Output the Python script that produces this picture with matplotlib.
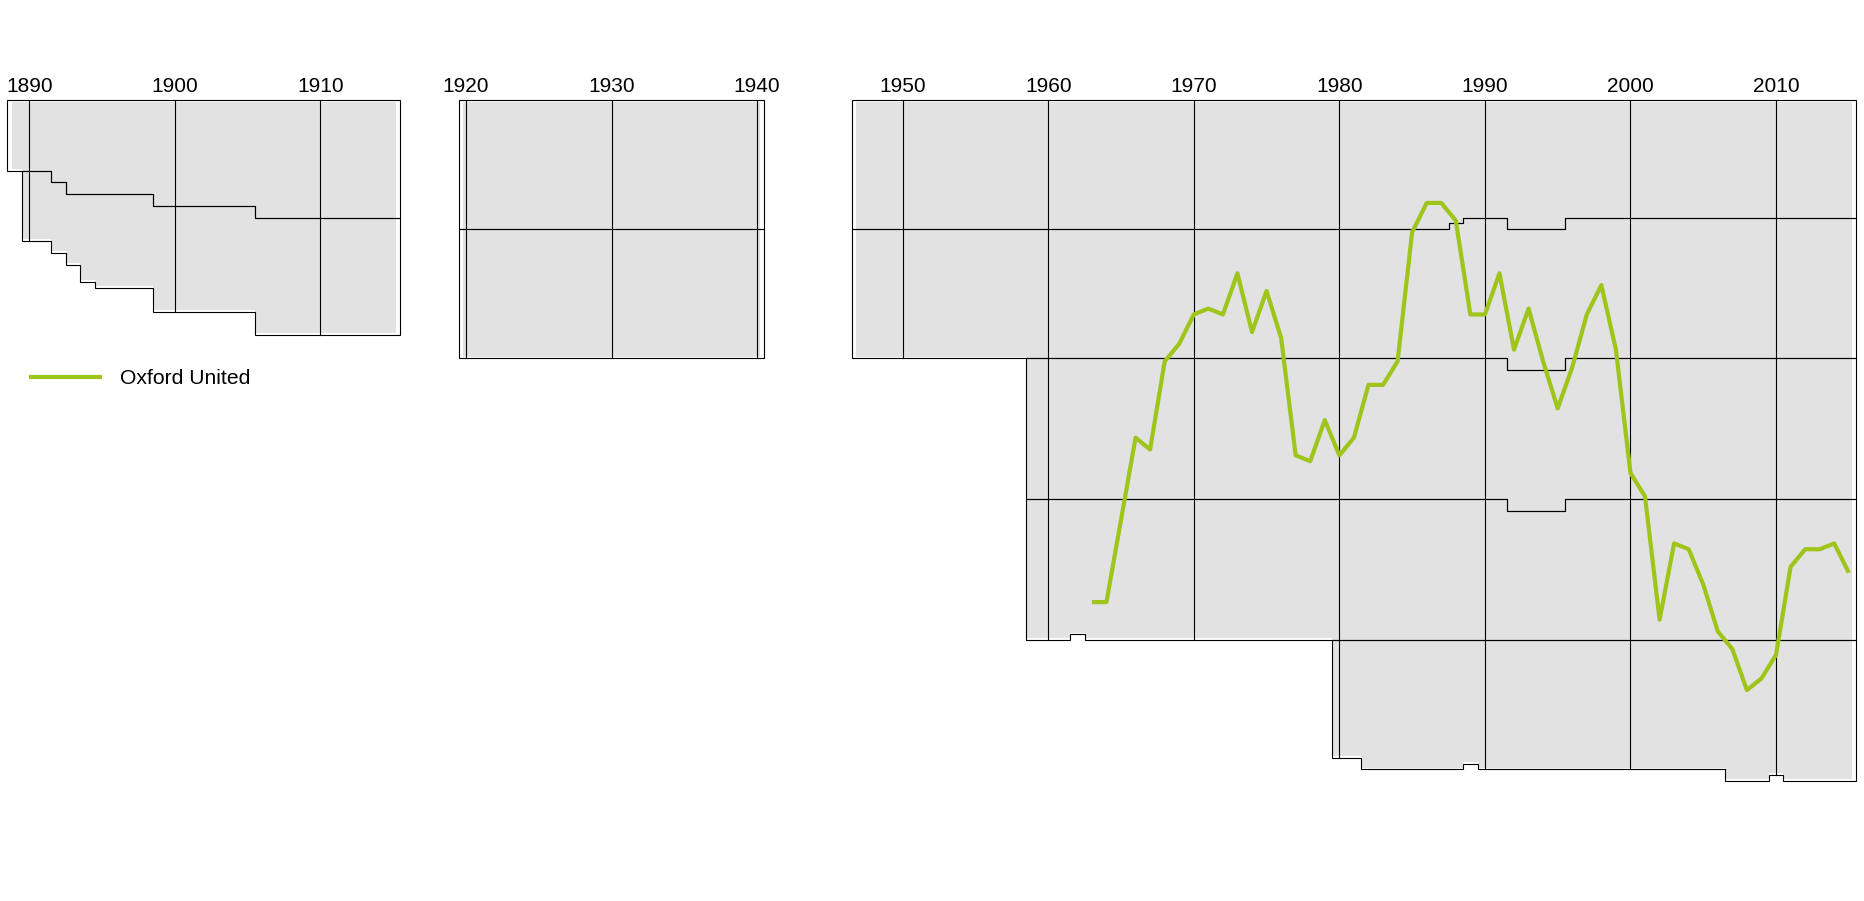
import matplotlib
matplotlib.use("Agg")
import matplotlib.pyplot as plt
from matplotlib.patches import Polygon

plt.rcParams["font.family"] = ["Liberation Sans", "DejaVu Sans"]

# ---------------- data ----------------
# seasons are indexed by the year in which they end (1888-89 -> 1889)
PANELS = [(1889, 1915), (1920, 1940), (1947, 2015)]

# (first season, last season, number of clubs) for each tier
DIV1_RUNS = [(1889, 1891, 12), (1892, 1892, 14), (1893, 1898, 16), (1899, 1905, 18),
             (1906, 1915, 20), (1920, 1940, 22), (1947, 1987, 22), (1988, 1988, 21),
             (1989, 1991, 20), (1992, 1995, 22), (1996, 2015, 20)]
DIV2_RUNS = [(1890, 1893, 12), (1894, 1894, 15), (1895, 1898, 16), (1899, 1905, 18),
             (1906, 1915, 20), (1920, 1940, 22), (1947, 1987, 22), (1988, 1988, 23),
             (1989, 2015, 24)]
DIV3_RUNS = [(1959, 2015, 24)]
DIV4_RUNS = [(1959, 1961, 24), (1962, 1962, 23), (1963, 1991, 24), (1992, 1995, 22),
             (1996, 2015, 24)]
DIV5_RUNS = [(1980, 1981, 20), (1982, 1988, 22), (1989, 1989, 21), (1990, 2006, 22),
             (2007, 2009, 24), (2010, 2010, 23), (2011, 2015, 24)]
TIERS = [DIV1_RUNS, DIV2_RUNS, DIV3_RUNS, DIV4_RUNS, DIV5_RUNS]

DECADE_LABELS = [1890, 1900, 1910, 1920, 1930, 1940, 1950, 1960, 1970, 1980, 1990, 2000, 2010]

OXFORD_YEARS = list(range(1963, 2016))
OXFORD_POS = [86, 86, 72, 58, 60, 45, 42, 37, 36, 37,
              30, 40, 33, 41, 61, 62, 55, 61, 58, 49,
              49, 45, 23, 18, 18, 21, 37, 37, 30, 43,
              36, 45, 53, 46, 37, 32, 43, 64, 68, 89,
              76, 77, 83, 91, 94, 101, 99, 95, 80, 77,
              77, 76, 81]
TEAM_NAME = "Oxford United"

# ---------------- styling ----------------
GREY = "#e2e2e2"
GREEN = "#9fc41a"
W, H = 1864, 901

fig = plt.figure(figsize=(W / 100, H / 100), dpi=100)
ax = fig.add_axes([0, 0, 1, 1])
ax.axis("off")

# pixel mapping: x_px = 29.3 + (year-1890)*14.556 ; y_px = 100.2 + (pos-0.5)*5.87
XS, X0 = 14.556, 29.3
YS, Y0 = 5.87, 100.2
ax.set_xlim(1890 - X0 / XS, 1890 + (W - X0) / XS)
ax.set_ylim(0.5 + (H - Y0) / YS, 0.5 - Y0 / YS)


def size(runs, year):
    for a, b, n in runs:
        if a <= year <= b:
            return n
    return 0


def cum(k, year):
    return sum(size(TIERS[i], year) for i in range(k))


def step_path(years, vals, x0, x1):
    edges = [x0] + [y + 0.5 for y in years[:-1]] + [x1]
    X, Y = [], []
    for i, v in enumerate(vals):
        X += [edges[i], edges[i + 1]]
        Y += [v, v]
    return X, Y


# grey background band
for a, b in PANELS:
    yrs = list(range(a, b + 1))
    tot = [cum(len(TIERS), y) for y in yrs]
    pad = 0.3
    Xb, Yb = step_path(yrs, [t + 0.5 - pad for t in tot], a - 0.5 + pad, b + 0.5 - pad)
    Xt, Yt = step_path(yrs, [0.5 + pad] * len(yrs), a - 0.5 + pad, b + 0.5 - pad)
    poly = list(zip(Xt, Yt)) + list(zip(Xb[::-1], Yb[::-1]))
    ax.add_patch(Polygon(poly, closed=True, facecolor=GREY, edgecolor="none", zorder=1))

# tier outlines
for a, b in PANELS:
    for k, runs in enumerate(TIERS):
        yrs = [y for y in range(a, b + 1) if size(runs, y) > 0]
        if not yrs:
            continue
        tops = [cum(k, y) + 0.5 for y in yrs]
        bots = [cum(k + 1, y) + 0.5 for y in yrs]
        Xt, Yt = step_path(yrs, tops, yrs[0] - 0.5, yrs[-1] + 0.5)
        Xb, Yb = step_path(yrs, bots, yrs[0] - 0.5, yrs[-1] + 0.5)
        poly = list(zip(Xt, Yt)) + list(zip(Xb[::-1], Yb[::-1]))
        ax.add_patch(Polygon(poly, closed=True, facecolor="none", edgecolor="black",
                             linewidth=0.8, zorder=3))

# decade lines and labels
for d in DECADE_LABELS:
    tot = cum(len(TIERS), d)
    ax.plot([d, d], [0.5, tot + 0.5], color="black", linewidth=0.8, zorder=3)
    ax.text(d, 0.5 + (91.7 - Y0) / YS, str(d), ha="center", va="baseline",
            fontsize=15, color="black")

# highlighted club
ax.plot(OXFORD_YEARS, OXFORD_POS, color=GREEN, linewidth=3.0, zorder=5,
        label=TEAM_NAME, solid_joinstyle="round", solid_capstyle="butt")

fs = 15.2
fs_px = fs * 100 / 72
ax.legend(loc="center left", bbox_to_anchor=(29 / W, 1 - 378.7 / H),
          bbox_transform=fig.transFigure, frameon=False, fontsize=fs,
          handlelength=72.7 / fs_px, handletextpad=18.3 / fs_px,
          borderpad=0, borderaxespad=0)

fig.savefig("out.png", dpi=100)
